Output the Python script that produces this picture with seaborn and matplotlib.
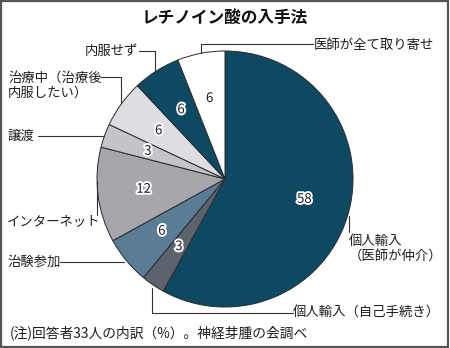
import numpy as np
import matplotlib
matplotlib.use("Agg")
import matplotlib.pyplot as plt
import matplotlib.patheffects as pe
from matplotlib.patches import Rectangle
import seaborn as sns

# Share of respondents by way of obtaining retinoic acid (%), clockwise from top
categories = ["個人輸入\n（医師が仲介）", "個人輸入（自己手続き）", "治験参加", "インターネット",
              "譲渡", "治療中（治療後\n内服したい）", "内服せず", "医師が全て取り寄せ"]
values = [58, 3, 6, 12, 3, 6, 6, 6]
colors = ["#0e4964", "#5d636c", "#5a7c94", "#a6a6ad", "#c4c4c9", "#dddde2", "#0e4964", "#ffffff"]

title = "レチノイン酸の入手法"
note = "(注)回答者33人の内訳（%）。神経芽腫の会調べ"

sns.set_theme(style="white")
plt.rcParams["font.family"] = ["Noto Sans CJK JP", "DejaVu Sans"]

W, H = 450, 348
fig = plt.figure(figsize=(W / 100, H / 100), dpi=100)
fig.patch.set_facecolor("white")

# pie axes: centre (225,179) px, radius 128 px
cx, cy, r = 225, 179, 128
ax = fig.add_axes([(cx - r) / W, (H - cy - r) / H, 2 * r / W, 2 * r / H])
wedges, _ = ax.pie(values, colors=colors, startangle=90, counterclock=False,
                   radius=1.0,
                   wedgeprops=dict(edgecolor="#2a2a2a", linewidth=0.7))
ax.set_xlim(-1.0, 1.0)
ax.set_ylim(-1.0, 1.0)
ax.set_aspect("auto")
ax.axis("off")

halo = [pe.withStroke(linewidth=2.8, foreground="white")]
for w, v in zip(wedges, values):
    mid = np.deg2rad((w.theta1 + w.theta2) / 2)
    ax.text(0.64 * np.cos(mid), 0.64 * np.sin(mid), f"{v}",
            ha="center", va="center", fontsize=9.5, color="#1e1e1e",
            path_effects=halo)

# overlay in pixel coordinates for title, callouts and note
ov = fig.add_axes([0, 0, 1, 1], zorder=5)
ov.set_xlim(0, W)
ov.set_ylim(H, 0)
ov.axis("off")
ov.patch.set_alpha(0)

lc = dict(color="#333333", linewidth=0.8)
tc = dict(fontsize=9.6, color="#1e1e1e", va="center")

ov.text(225, 18, title, ha="center", va="center", fontsize=12,
        fontweight="bold", color="#111111")

# 医師が全て取り寄せ
ov.plot([201, 201, 313], [53, 44, 44], **lc)
ov.text(314, 45, categories[7], ha="left", **tc)
# 内服せず
ov.plot([139, 155, 155], [51, 51, 74], **lc)
ov.text(138, 51, categories[6], ha="right", **tc)
# 治療中
ov.plot([101, 121, 121], [77, 77, 103], **lc)
ov.text(8, 85, categories[5], ha="left", linespacing=1.05, **tc)
# 譲渡
ov.plot([38, 104], [136, 136], **lc)
ov.text(8, 136, categories[4], ha="left", **tc)
# インターネット
ov.plot([97, 97], [181, 215], **lc)
ov.text(7, 222, categories[3], ha="left", **tc)
# 治験参加
ov.plot([60, 124], [262, 262], **lc)
ov.text(7, 262, categories[2], ha="left", **tc)
# 個人輸入（自己手続き）
ov.plot([152, 152, 293], [288, 313, 313], **lc)
ov.text(293, 313, categories[1], ha="left", **tc)
# 個人輸入（医師が仲介）
ov.plot([349, 349], [216, 232], **lc)
ov.text(349, 248, categories[0], ha="left", linespacing=1.05, **tc)

ov.text(10, 333, note, ha="left", fontsize=9.9, color="#1e1e1e", va="center")

# frame around the whole graphic
ov.add_patch(Rectangle((1, 1), 446.5, 345.5, fill=False, edgecolor="#555555",
                       linewidth=1.6))

fig.savefig("out.png", dpi=100)
